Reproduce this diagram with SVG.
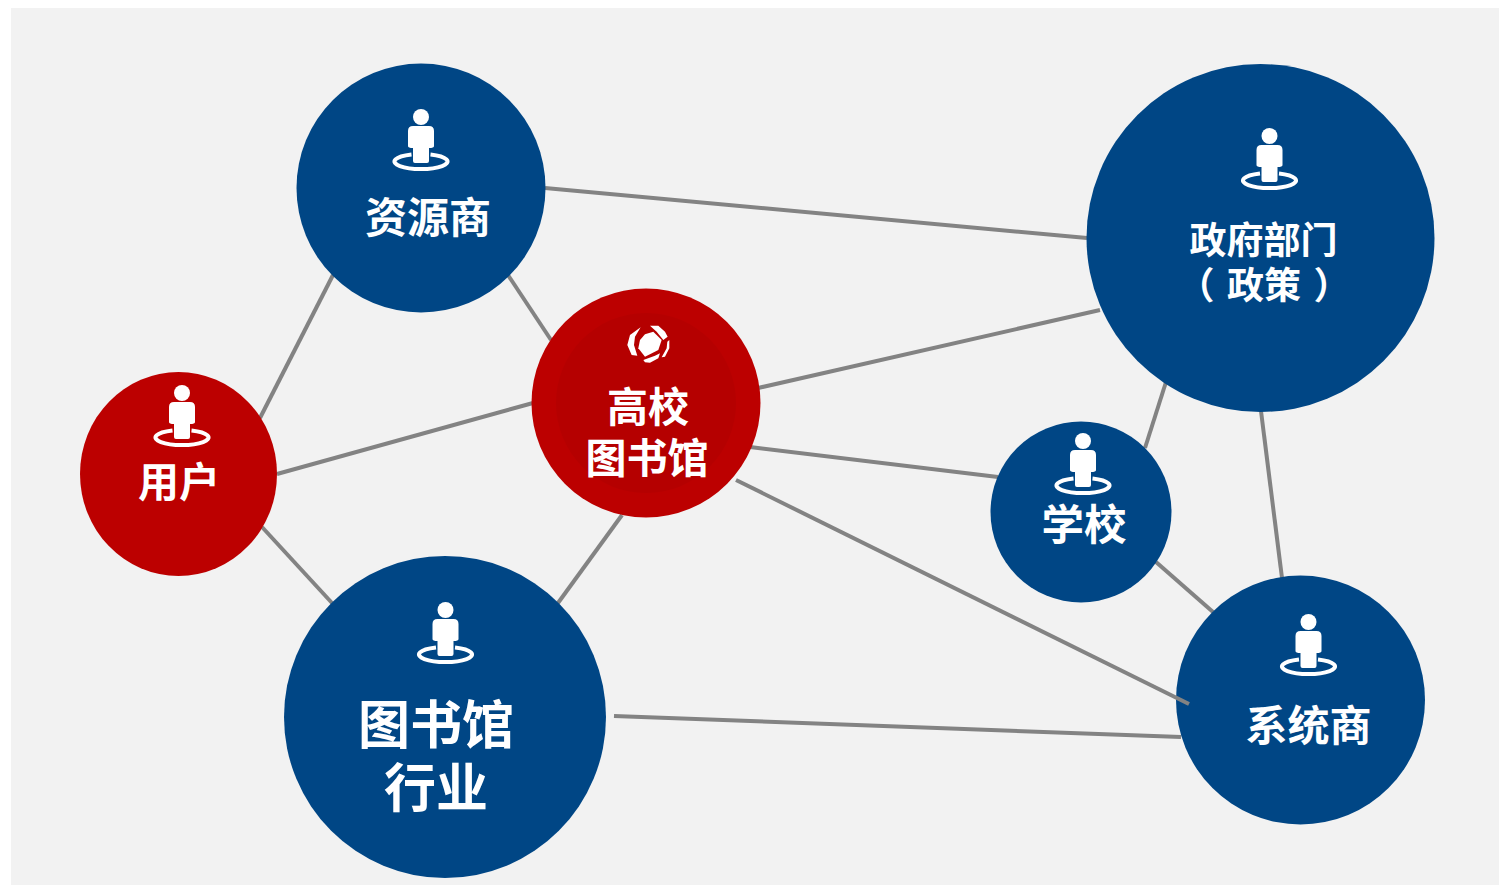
<svg xmlns="http://www.w3.org/2000/svg" width="1499" height="887" viewBox="0 0 1499 887">
<style>
.blue{fill:#004685}
.red{fill:#bc0000}
.t{font-family:"Noto Sans CJK SC","Liberation Sans",sans-serif;font-weight:700;fill:#fff;text-anchor:middle}
.c line{stroke:#838383;stroke-width:4;stroke-linecap:butt}
</style>
<defs>
<g id="person">
<circle cx="0" cy="0" r="8" fill="#fff"/>
<path d="M-8 9H8Q13 9 13 14V29Q13 31 8 31V44Q8 46 6 46H-6Q-8 46 -8 44V31Q-13 31 -13 29V14Q-13 9 -8 9Z" fill="#fff"/>
<path d="M-9.500 37.500A26.500 7.500 0 1 0 9.500 37.500" fill="none" stroke="#fff" stroke-width="4"/>
</g>
</defs>
<rect width="1499" height="887" fill="#fff"/>
<rect x="11" y="8" width="1488" height="877" fill="#f2f2f2"/>
<g id="connectors" class="c">
<line x1="545" y1="188" x2="1087" y2="238"/>
<line x1="333" y1="275" x2="260" y2="418"/>
<line x1="508" y1="275" x2="551" y2="340"/>
<line x1="277" y1="474" x2="533" y2="403"/>
<line x1="262" y1="527" x2="332" y2="603"/>
<line x1="622" y1="515" x2="558" y2="603"/>
<line x1="758" y1="388" x2="1100" y2="310"/>
<line x1="750" y1="447" x2="998" y2="477"/>
<line x1="1166" y1="382" x2="1145" y2="448"/>
<line x1="1261" y1="411" x2="1282" y2="578"/>
<line x1="1156" y1="562" x2="1213" y2="612"/>
<line x1="614" y1="716" x2="1181" y2="737"/>
</g>
<g id="node-resource">
<circle class="blue" cx="421" cy="188" r="124.500"/>
<use href="#person" x="421" y="117"/>
<text class="t" x="428" y="233" font-size="42">资源商</text>
</g>
<g id="node-gov">
<circle class="blue" cx="1260.500" cy="238" r="174"/>
<use href="#person" x="1269.500" y="136"/>
<text class="t" font-size="37"><tspan x="1263.500" y="254">政府部门</tspan><tspan x="1264" y="299" word-spacing="4">（ 政策 ）</tspan></text>
</g>
<g id="node-univ">
<circle class="red" cx="646" cy="403" r="114.500"/>
<circle cx="646" cy="403" r="90" fill="#b50000"/>
<g fill="#fff" transform="translate(530 285) scale(.3333)">
<path d="M345 148L370 140L395 165L385 195L345 215L325 190L330 165Z"/>
<path d="M332 127L300 150L292 180L305 210L322 212L312 180L315 155Z"/>
<path d="M360 122L385 122L405 140L413 155L400 165L380 140Z"/>
<path d="M418 165L418 190L405 215L395 217L410 190L412 170Z"/>
<path d="M340 225L375 212L390 205L385 220L360 233L345 232Z"/>
</g>
<text class="t" font-size="41"><tspan x="648" y="422">高校</tspan><tspan x="647" y="473">图书馆</tspan></text>
</g>
<g id="node-user">
<ellipse class="red" cx="178.500" cy="474" rx="98.500" ry="102"/>
<use href="#person" x="182" y="393"/>
<text class="t" x="179" y="497" font-size="41">用户</text>
</g>
<g id="node-industry">
<circle class="blue" cx="445" cy="717" r="161"/>
<use href="#person" x="445.500" y="610"/>
<text class="t" font-size="52"><tspan x="436" y="744">图书馆</tspan><tspan x="436" y="807">行业</tspan></text>
</g>
<g id="node-school">
<circle class="blue" cx="1081" cy="512" r="90.500"/>
<use href="#person" x="1083" y="441"/>
<text class="t" x="1084" y="540" font-size="42.500">学校</text>
</g>
<g id="node-integrator">
<circle class="blue" cx="1300.500" cy="700" r="124.500"/>
<use href="#person" x="1308.500" y="622"/>
<text class="t" x="1308.500" y="741" font-size="42">系统商</text>
</g>
<g class="c"><line x1="736" y1="480" x2="1189" y2="704"/></g>
</svg>
